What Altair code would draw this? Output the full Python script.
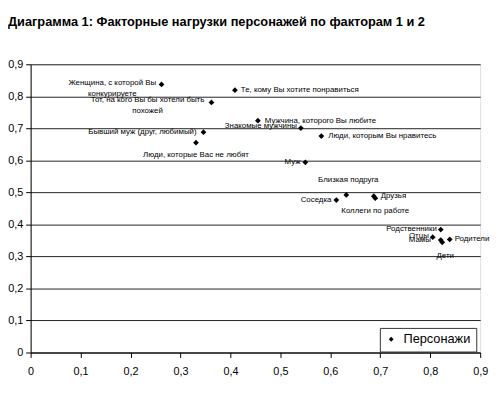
import altair as alt
import pandas as pd

# ---- data ----
names = [
    "Женщина, с которой Вы\nконкурируете",
    "Тот, на кого Вы бы хотели быть\nпохожей",
    "Те, кому Вы хотите понравиться",
    "Мужчина, которого Вы любите",
    "Знакомые мужчины",
    "Бывший муж (друг, любимый)",
    "Люди, которые Вас не любят",
    "Люди, которым Вы нравитесь",
    "Муж",
    "Близкая подруга",
    "Соседка",
    "Друзья",
    "Коллеги по работе",
    "Родственники",
    "Отцы",
    "Мамы",
    "Дети",
    "Родители",
]
factor1 = [0.262, 0.362, 0.409, 0.455, 0.541, 0.346, 0.331, 0.582, 0.550,
           0.632, 0.612, 0.687, 0.690, 0.821, 0.805, 0.821, 0.824, 0.839]
factor2 = [0.837, 0.781, 0.819, 0.724, 0.701, 0.688, 0.655, 0.676, 0.594,
           0.492, 0.476, 0.488, 0.482, 0.384, 0.360, 0.351, 0.344, 0.353]
series_name = "Персонажи"
tick_values = [0, 0.1, 0.2, 0.3, 0.4, 0.5, 0.6, 0.7, 0.8, 0.9]
title_text = "Диаграмма 1: Факторные  нагрузки персонажей по факторам 1 и 2"

# ---- label placement (annotation styling) ----
label_align = ["center", "center", "left", "left", "right", "right", "center", "left", "right",
               "center", "right", "left", "center", "right", "right", "right", "center", "left"]
label_dx = [-50, -65, 6, 7, -4, -7, 0, 7, -5, 2, -5, 7, 0, -4, -4, -10, 3, 5]
label_dy = [-1, -2, 0, 0, -2, 0, 12, 0, 0, -15, 0, 0, 13, 0, -1, 0, 14, 0]

df = pd.DataFrame({
    "name": names, "f1": factor1, "f2": factor2,
    "series": [series_name] * len(names),
    "al": label_align, "ldx": label_dx, "ldy": label_dy,
})

FONT = "Liberation Sans"
fmt = "datum.value == 0 ? '0' : replace(format(datum.value, '.1f'), '.', ',')"

x_enc = alt.X("f1:Q", scale=alt.Scale(domain=[0, 0.9], nice=False),
              axis=alt.Axis(values=tick_values, tickCount=10, labelExpr=fmt, title=None,
                            grid=False, tickSize=5, tickColor="black", domainColor="black",
                            labelFontSize=11, labelFont=FONT, labelColor="black",
                            labelPadding=8, labelFlush=False, labelOverlap=False))
y_enc = alt.Y("f2:Q", scale=alt.Scale(domain=[0, 0.9], nice=False),
              axis=alt.Axis(values=tick_values, tickCount=10, labelExpr=fmt, title=None,
                            grid=True, gridColor="#222", gridOpacity=1, tickSize=5,
                            tickColor="black", domainColor="black", labelFontSize=11,
                            labelFont=FONT, labelColor="black", labelPadding=3,
                            labelFlush=False, labelOverlap=False))

base = alt.Chart(df)

points = base.mark_point(shape="diamond", filled=True, size=34, opacity=1).encode(
    x=x_enc, y=y_enc,
    color=alt.Color("series:N", scale=alt.Scale(range=["black"]),
                    legend=alt.Legend(title=None, orient="none", legendX=355, legendY=268,
                                      strokeColor="#333", fillColor="white", padding=5,
                                      symbolType="diamond", symbolSize=24,
                                      labelFontSize=13, labelFont=FONT, labelColor="black",
                                      labelOffset=6)),
)

labels = base.mark_text(
    font=FONT, fontSize=8, lineBreak="\n", lineHeight=11, baseline="middle", color="black",
    align=alt.ExprRef(expr="datum.al"),
    dx=alt.ExprRef(expr="datum.ldx"),
    dy=alt.ExprRef(expr="datum.ldy"),
).encode(x=x_enc, y=y_enc, text="name:N")

chart = alt.layer(points, labels).properties(
    width=457, height=293,
    autosize=alt.AutoSizeParams(type="none"),
    padding={"left": 23, "top": 54, "right": 12, "bottom": 41},
    title=alt.TitleParams(title_text, anchor="start", frame="group", dx=-23, offset=30,
                          font=FONT, fontSize=13, fontWeight="bold", color="black"),
).configure_view(stroke="#888", strokeWidth=1).configure(background="white")

chart.save("out.html", embed_options={"renderer": "svg", "actions": False})
